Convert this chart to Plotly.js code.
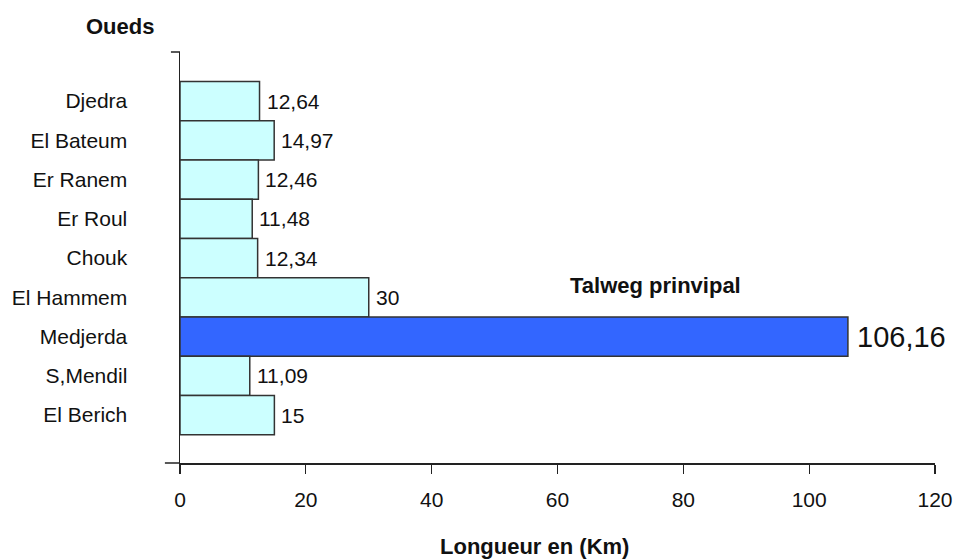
<!DOCTYPE html>
<html>
<head>
<meta charset="utf-8">
<script src="https://cdn.plot.ly/plotly-3.0.1.min.js"></script>
<style>html,body{margin:0;padding:0;background:#fff;}#chart{width:956px;height:559px;}</style>
</head>
<body>
<div id="chart"></div>
<script>
// Data (top to bottom as shown)
var oueds = ["Djedra", "El Bateum", "Er Ranem", "Er Roul", "Chouk", "El Hammem", "Medjerda", "S,Mendil", "El Berich"];
var longueurs = [12.64, 14.97, 12.46, 11.48, 12.34, 30, 106.16, 11.09, 15];
var valueLabels = ["12,64", "14,97", "12,46", "11,48", "12,34", "30", "106,16", "11,09", "15"];
var xTicks = [0, 20, 40, 60, 80, 100, 120];

var n = oueds.length;
var yPos = oueds.map(function(_, i){ return n - 1 - i; });
var colors = oueds.map(function(o){ return o === "Medjerda" ? "#3366FF" : "#CCFFFF"; });

var font = "'Liberation Sans', Arial, sans-serif";

var trace = {
  type: "bar",
  orientation: "h",
  x: longueurs,
  y: yPos,
  marker: {color: colors, line: {color: "#333333", width: 1.5}},
  hoverinfo: "none"
};

var valueAnnots = longueurs.map(function(v, i){
  var big = oueds[i] === "Medjerda";
  return {
    text: valueLabels[i], xref: "x", yref: "y", x: v, y: yPos[i],
    xanchor: "left", yanchor: "middle", xshift: big ? 7 : 5, showarrow: false,
    font: {family: font, size: big ? 29 : 21, color: "#111"}
  };
});

var layout = {
  width: 956, height: 559,
  margin: {l: 180, r: 21, t: 52, b: 96},
  paper_bgcolor: "#fff", plot_bgcolor: "#fff",
  bargap: 0,
  showlegend: false,
  font: {family: font, color: "#111"},
  xaxis: {
    range: [0, 120], tickvals: xTicks, ticktext: xTicks.map(String),
    showgrid: false, zeroline: false, showline: true, linecolor: "#222", linewidth: 1.5,
    ticks: "outside", ticklen: 9, tickwidth: 1.3, tickcolor: "#222",
    ticklabelstandoff: 8,
    tickfont: {family: font, size: 21, color: "#111"}
  },
  yaxis: {
    range: [-1.22, 9.25], tickvals: yPos, ticktext: oueds,
    showgrid: false, zeroline: false, showline: true, linecolor: "#222", linewidth: 1.5,
    ticks: "", ticklabelstandoff: 47,
    tickfont: {family: font, size: 21, color: "#111"}
  },
  shapes: [
    {type: "line", xref: "paper", yref: "paper", x0: -0.012, x1: 0, y0: 1, y1: 1, line: {color: "#222", width: 1.5}},
    {type: "line", xref: "paper", yref: "paper", x0: -0.02, x1: 0, y0: 0, y1: 0, line: {color: "#222", width: 1.5}}
  ],
  annotations: valueAnnots.concat([
    {text: "<b>Oueds</b>", xref: "paper", yref: "paper", x: -0.0795, y: 1.061, xanchor: "center", yanchor: "middle", showarrow: false, font: {family: font, size: 22, color: "#111"}},
    {text: "<b>Longueur en (Km)</b>", xref: "paper", yref: "paper", x: 0.47, y: -0.204, xanchor: "center", yanchor: "middle", showarrow: false, font: {family: font, size: 22, color: "#111"}},
    {text: "<b>Talweg prinvipal</b>", xref: "x", yref: "y", x: 75.5, y: 3.29, xanchor: "center", yanchor: "middle", showarrow: false, font: {family: font, size: 22, color: "#111"}}
  ])
};

Plotly.newPlot("chart", [trace], layout, {displayModeBar: false, staticPlot: true});
</script>
</body>
</html>
